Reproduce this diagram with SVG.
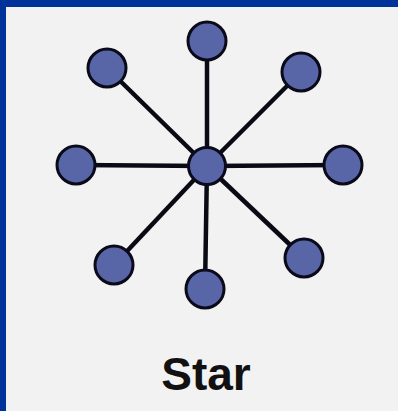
<svg xmlns="http://www.w3.org/2000/svg" width="398" height="411" viewBox="0 0 398 411">
<style>
.link{stroke:#0a0a14;stroke-width:4.5;fill:none}
.node{fill:#5866a8;stroke:#0a0a1a;stroke-width:3}
.label{font-family:"Liberation Sans",Arial,sans-serif;font-weight:bold;font-size:46px;fill:#111;text-anchor:middle}
</style>
<rect x="0" y="0" width="398" height="411" fill="#f2f2f2"/>
<rect x="0" y="0" width="398" height="7" fill="#003399"/>
<rect x="0" y="0" width="6" height="411" fill="#003399"/>
<g id="connectors">
<line class="link" x1="207" y1="166" x2="207" y2="41"/>
<line class="link" x1="207" y1="166" x2="107" y2="68"/>
<line class="link" x1="207" y1="166" x2="301" y2="72"/>
<line class="link" x1="207" y1="166" x2="76" y2="165"/>
<line class="link" x1="207" y1="166" x2="343" y2="165"/>
<line class="link" x1="207" y1="166" x2="114" y2="265"/>
<line class="link" x1="207" y1="166" x2="205" y2="289"/>
<line class="link" x1="207" y1="166" x2="304" y2="258"/>
</g>
<g id="hub"><circle class="node" cx="207" cy="166" r="18.5"/></g>
<g id="n-top"><circle class="node" cx="207" cy="41" r="19"/></g>
<g id="n-topleft"><circle class="node" cx="107" cy="68" r="19"/></g>
<g id="n-topright"><circle class="node" cx="301" cy="72" r="19"/></g>
<g id="n-left"><circle class="node" cx="76" cy="165" r="19"/></g>
<g id="n-right"><circle class="node" cx="343" cy="165" r="19"/></g>
<g id="n-bottomleft"><circle class="node" cx="114" cy="265" r="19"/></g>
<g id="n-bottom"><circle class="node" cx="205" cy="289" r="19"/></g>
<g id="n-bottomright"><circle class="node" cx="304" cy="258" r="19"/></g>
<g id="caption"><text class="label" x="206" y="390">Star</text></g>
</svg>
